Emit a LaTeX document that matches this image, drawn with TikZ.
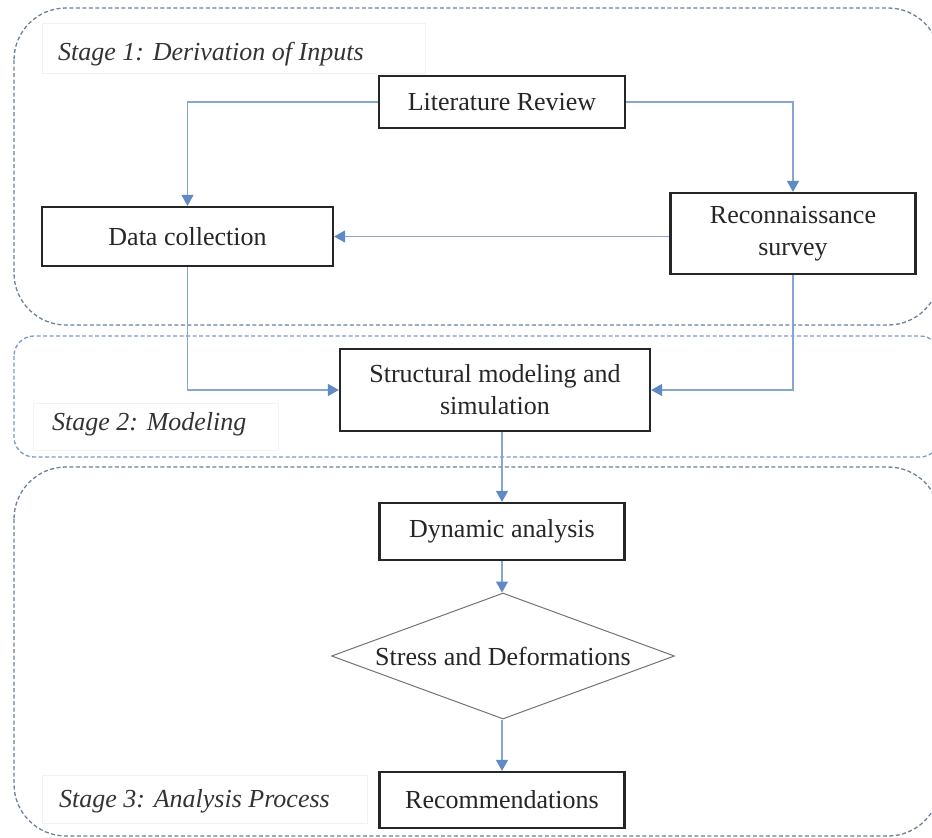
\documentclass[tikz,border=0pt]{standalone}
\usepackage{fontspec}
\setmainfont{Liberation Serif}
\usetikzlibrary{arrows.meta,shapes.geometric}
\definecolor{arrowblue}{RGB}{95,138,198}
\definecolor{linkblue}{RGB}{135,165,210}
\definecolor{stagegray}{RGB}{110,128,150}
\definecolor{stageblue}{RGB}{125,152,200}
\begin{document}
\begin{tikzpicture}[x=1pt,y=-1pt,
  procbox/.style={draw=black!85, line width=2.2pt, fill=white, inner sep=0pt, align=center,
    text=black!85, font=\fontsize{26}{32}\selectfont},
  decision/.style={diamond, draw=black!55, line width=1pt, aspect=2.72, inner sep=0pt,
    fill=white, text=black!85, font=\fontsize{26}{32}\selectfont},
  flow/.style={draw=linkblue, line width=1.2pt,
    -{Triangle[width=12pt,length=11pt,color=arrowblue,fill=arrowblue]}},
  stagebox/.style={dash pattern=on 4pt off 2.5pt, line width=1.3pt},
  stagelabel/.style={font=\fontsize{26}{30}\selectfont\itshape, anchor=base west,
    inner sep=0pt, text=black!80},
  faint/.style={draw=black!5, line width=0.8pt}]
\useasboundingbox (0,0) rectangle (932,838);
% stage frames
\draw[stagebox, draw=stagegray, rounded corners=52pt] (14,8) rectangle (940,325);
\draw[stagebox, draw=stageblue, rounded corners=20pt] (14,336) rectangle (940,457);
\draw[stagebox, draw=stagegray, rounded corners=52pt] (14,467) rectangle (940,836);
% stage labels
\draw[faint] (42,23) rectangle (425,73);
\node[stagelabel] (s1) at (58,60) {Stage 1: Derivation of Inputs};
\draw[faint] (33,403) rectangle (278,450);
\node[stagelabel] (s2) at (52,430) {Stage 2: Modeling};
\draw[faint] (42,775) rectangle (367,823);
\node[stagelabel] (s3) at (59,807) {Stage 3: Analysis Process};
% nodes
\node[procbox, minimum width=246pt, minimum height=52pt] (lit) at (502,102) {Literature Review};
\node[procbox, minimum width=291pt, minimum height=59pt] (dc) at (187.5,236.5) {Data collection};
\node[procbox, minimum width=245pt, minimum height=81pt] (rs) at (793,233.5) {Reconnaissance\\survey};
\node[procbox, minimum width=310pt, minimum height=82pt] (sm) at (495,390) {Structural modeling and\\simulation};
\node[procbox, minimum width=245pt, minimum height=57pt] (da) at (502,531.5) {Dynamic analysis};
\node[decision, minimum width=343pt, minimum height=126pt] (sd) at (503,656) {Stress and Deformations};
\node[procbox, minimum width=245pt, minimum height=56pt] (rec) at (502,800) {Recommendations};
% connectors
\draw[flow] (lit.west) -| (dc.north);
\draw[flow] (lit.east) -| (rs.north);
\draw[flow] (rs.west |- dc.east) -- (dc.east);
\draw[flow] (dc.south) |- (sm.west);
\draw[flow] (rs.south) |- (sm.east);
\draw[flow] (da.north |- sm.south) -- (da.north);
\draw[flow] (da.south) -- (da.south |- sd.north);
\draw[flow] (rec.north |- sd.south) -- (rec.north);
\end{tikzpicture}
\end{document}
